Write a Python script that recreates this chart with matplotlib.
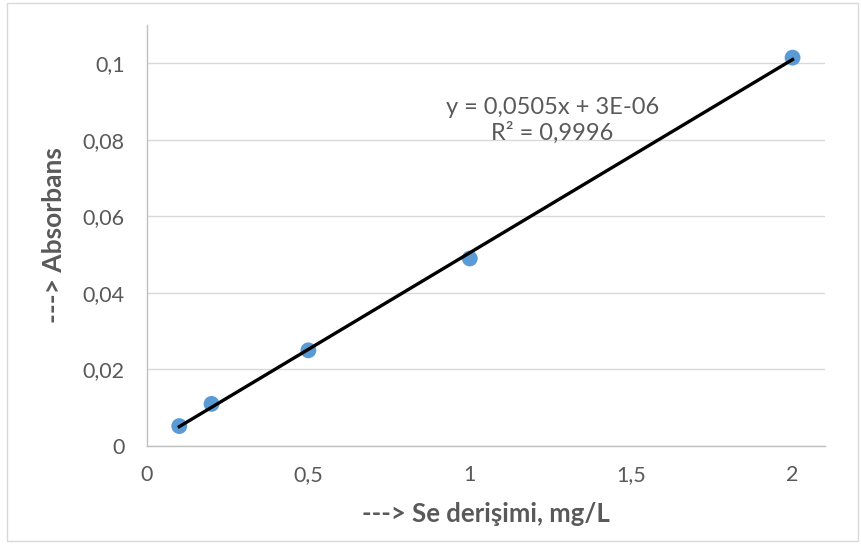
import numpy as np
import matplotlib.pyplot as plt
from matplotlib.patches import Rectangle

plt.rcParams['font.family'] = ['Lato', 'DejaVu Sans']

conc = [0.1, 0.2, 0.5, 1.0, 2.0]
absorb = [0.0052, 0.011, 0.025, 0.049, 0.1015]
x_ticks = [0, 0.5, 1, 1.5, 2]
x_labels = ['0', '0,5', '1', '1,5', '2']
y_ticks = [0, 0.02, 0.04, 0.06, 0.08, 0.1]
y_labels = ['0', '0,02', '0,04', '0,06', '0,08', '0,1']
slope = 0.0505
intercept = 3e-06

fig = plt.figure(figsize=(8.61, 5.46), dpi=100)
ax = fig.add_axes([0.1707, 0.1832, 0.7873, 0.7708])

grey = '#595959'
ax.scatter(conc, absorb, s=130, color='#5B9BD5', zorder=3, edgecolors='none')
xl = np.array([min(conc), max(conc)])
ax.plot(xl, slope * xl + intercept, color='black', lw=2.4, zorder=4)

ax.set_xlim(0, 2.1)
ax.set_ylim(0, 0.11)
ax.set_xticks(x_ticks)
ax.set_xticklabels(x_labels)
ax.set_yticks(y_ticks)
ax.set_yticklabels(y_labels)
ax.tick_params(length=0, labelsize=15.5, colors=grey)
ax.tick_params(axis='y', pad=16)
ax.tick_params(axis='x', pad=14)
ax.grid(axis='y', color='#d9d9d9', lw=1)
ax.set_axisbelow(True)
for s in ['top', 'right']:
    ax.spines[s].set_visible(False)
for s in ['left', 'bottom']:
    ax.spines[s].set_color('#bfbfbf')
    ax.spines[s].set_linewidth(1)

ax.set_xlabel('---> Se derişimi, mg/L', fontsize=18.5, fontweight='bold', color=grey, labelpad=12)
ax.set_ylabel('---> Absorbans', fontsize=19, fontweight='bold', color=grey, labelpad=12)

ax.text(1.256, 0.0851, 'y = 0,0505x + 3E-06\nR² = 0,9996', ha='center', va='center',
        fontsize=17, color=grey, linespacing=1.25)

fig.patches.append(Rectangle((0.008, 0.01), 0.988, 0.985, transform=fig.transFigure,
                             fill=False, edgecolor='#d9d9d9', lw=1))

plt.savefig('out.png', dpi=100)
